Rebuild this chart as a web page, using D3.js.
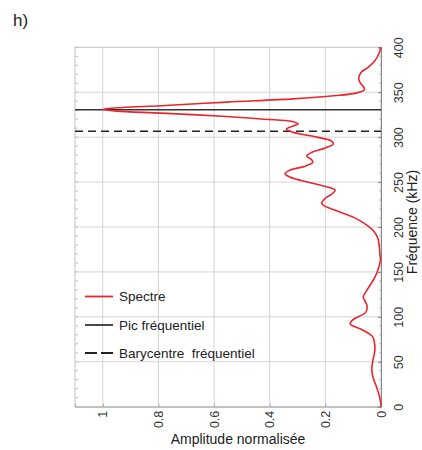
<!DOCTYPE html>
<html>
<head>
<meta charset="utf-8">
<script src="https://cdn.jsdelivr.net/npm/d3@7"></script>
<style>
  html, body { margin: 0; padding: 0; background: #fff; }
  svg { display: block; }
  text { font-family: Arial, "Liberation Sans", sans-serif; }
</style>
</head>
<body>
<script>
// ---- data ----
const freqKHz = [0, 4, 12, 22, 30, 40, 50, 63, 72, 78, 86, 92, 97, 105, 112, 118, 122, 130, 144, 155, 163, 170, 178, 188, 196, 204, 211, 218, 226, 232, 237, 241, 246, 252, 256, 259, 263, 268, 272, 275, 279, 283, 288, 292.6, 296, 300, 305.6, 309, 312, 315, 317.5, 320, 323, 326.7, 329, 331, 333, 335, 339, 342.6, 346, 349, 352.6, 356, 360, 365, 372, 378, 385, 392, 398, 400];
const amplitude = [0, 0.001, 0.006, 0.016, 0.026, 0.033, 0.03, 0.022, 0.024, 0.03, 0.07, 0.111, 0.1, 0.055, 0.05, 0.058, 0.064, 0.05, 0.022, 0.008, 0.002, 0.004, 0.006, 0.012, 0.028, 0.06, 0.1, 0.16, 0.213, 0.2, 0.175, 0.165, 0.21, 0.29, 0.33, 0.345, 0.33, 0.27, 0.245, 0.25, 0.267, 0.25, 0.2, 0.171, 0.18, 0.23, 0.32, 0.34, 0.32, 0.298, 0.32, 0.42, 0.554, 0.79, 0.95, 1.0, 0.93, 0.79, 0.554, 0.315, 0.17, 0.09, 0.06, 0.062, 0.074, 0.08, 0.072, 0.045, 0.022, 0.009, 0.002, 0];
const peakFreq = 330.5;
const barycentreFreq = 306.5;
const ampTicks = [1, 0.8, 0.6, 0.4, 0.2, 0];
const freqTicks = [0, 50, 100, 150, 200, 250, 300, 350, 400];
const legendLabels = ["Spectre", "Pic fréquentiel", "Barycentre  fréquentiel"];
const panelLabel = "h)";
const xTitle = "Amplitude normalisée";
const yTitle = "Fréquence (kHz)";

// ---- layout ----
const W = 422, H = 450;
const L = 75, R = 381, T = 47.3, B = 406.7;

const svg = d3.select("body").append("svg").attr("width", W).attr("height", H);

const x = d3.scaleLinear().domain([1.1, 0]).range([L, R]);
const y = d3.scaleLinear().domain([0, 400]).range([B, T]);

// gridlines
const grid = svg.append("g");
grid.selectAll("line.v").data(ampTicks.filter(d => d > 0)).join("line")
  .attr("x1", d => x(d)).attr("x2", d => x(d)).attr("y1", T).attr("y2", B)
  .attr("stroke", "#d4d4d4").attr("stroke-width", 1);
grid.selectAll("line.h").data(freqTicks.filter(d => d > 0 && d < 400)).join("line")
  .attr("x1", L).attr("x2", R).attr("y1", d => y(d)).attr("y2", d => y(d))
  .attr("stroke", "#d4d4d4").attr("stroke-width", 1);

// frame
svg.append("rect").attr("x", L).attr("y", T).attr("width", R - L).attr("height", B - T)
  .attr("fill", "none").attr("stroke", "#c4c4c4").attr("stroke-width", 1);

// minor ticks on left / right edges
const minor = d3.range(0, 401, 10);
svg.append("g").selectAll("line").data(minor).join("line")
  .attr("x1", L).attr("x2", L + 3).attr("y1", d => y(d)).attr("y2", d => y(d))
  .attr("stroke", "#c0c0c0");
svg.append("g").selectAll("line").data(minor).join("line")
  .attr("x1", R - 2).attr("x2", R).attr("y1", d => y(d)).attr("y2", d => y(d))
  .attr("stroke", "#bbb");

// axes
const bottomAxis = svg.append("g").attr("transform", `translate(0,${B})`)
  .call(d3.axisBottom(x).tickValues(ampTicks).tickSize(-3).tickFormat(d3.format("")));
bottomAxis.select(".domain").attr("stroke", "#aaa");
bottomAxis.selectAll(".tick line").attr("stroke", "#aaa");
bottomAxis.selectAll(".tick text")
  .attr("x", null).attr("y", null).attr("dy", null)
  .attr("text-anchor", "end")
  .attr("dominant-baseline", "central")
  .attr("transform", "translate(0,4) rotate(-90)")
  .attr("font-size", 12.5).attr("fill", "#333");

const rightAxis = svg.append("g").attr("transform", `translate(${R},0)`)
  .call(d3.axisRight(y).tickValues(freqTicks).tickSize(-3));
rightAxis.select(".domain").attr("stroke", "#888");
rightAxis.selectAll(".tick line").attr("stroke", "#888");
rightAxis.selectAll(".tick text")
  .attr("x", null).attr("dy", null)
  .attr("text-anchor", "middle")
  .attr("dominant-baseline", "central")
  .attr("transform", "translate(18,0) rotate(-90)")
  .attr("font-size", 12.5).attr("fill", "#333");

// reference lines
svg.append("line").attr("x1", L).attr("x2", R).attr("y1", y(peakFreq)).attr("y2", y(peakFreq))
  .attr("stroke", "#333").attr("stroke-width", 1.6);
svg.append("line").attr("x1", L).attr("x2", R).attr("y1", y(barycentreFreq)).attr("y2", y(barycentreFreq))
  .attr("stroke", "#222").attr("stroke-width", 1.6).attr("stroke-dasharray", "8,5");

// spectrum
const pts = freqKHz.map((f, i) => [amplitude[i], f]);
const line = d3.line().x(d => x(d[0])).y(d => y(d[1])).curve(d3.curveCatmullRom.alpha(0.5));
svg.append("path").datum(pts).attr("d", line)
  .attr("fill", "none").attr("stroke", "#e8262c").attr("stroke-width", 1.6);

// legend
const legY = [296.5, 325, 353];
const leg = svg.append("g");
leg.append("line").attr("x1", 85).attr("x2", 113).attr("y1", legY[0]).attr("y2", legY[0])
  .attr("stroke", "#e8262c").attr("stroke-width", 1.8);
leg.append("line").attr("x1", 85).attr("x2", 113).attr("y1", legY[1]).attr("y2", legY[1])
  .attr("stroke", "#333").attr("stroke-width", 1.8);
leg.append("line").attr("x1", 85).attr("x2", 113).attr("y1", legY[2]).attr("y2", legY[2])
  .attr("stroke", "#222").attr("stroke-width", 1.8).attr("stroke-dasharray", "12,4");
leg.selectAll("text").data(legendLabels).join("text")
  .attr("x", 119).attr("y", (d, i) => legY[i] + 4.5)
  .attr("font-size", 13.5).attr("fill", "#222")
  .style("white-space", "pre")
  .text(d => d);

// titles
svg.append("text").attr("x", 238).attr("y", 444).attr("text-anchor", "middle")
  .attr("font-size", 14).attr("fill", "#222").text(xTitle);
svg.append("text").attr("transform", "translate(412,222) rotate(-90)")
  .attr("text-anchor", "middle").attr("dominant-baseline", "central")
  .attr("font-size", 14).attr("fill", "#222").text(yTitle);
svg.append("text").attr("x", 13).attr("y", 26).attr("font-size", 17).attr("fill", "#222").text(panelLabel);
</script>
</body>
</html>
